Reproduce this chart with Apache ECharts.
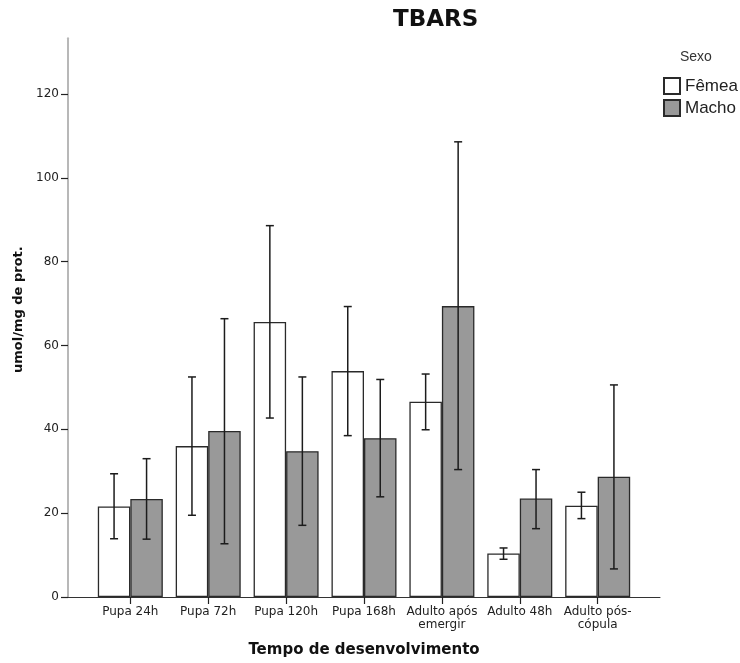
<!DOCTYPE html>
<html>
<head>
<meta charset="utf-8">
<script src="https://cdn.jsdelivr.net/npm/echarts@6/dist/echarts.min.js"></script>
<style>
  html, body { margin: 0; padding: 0; background: #fff; }
  #chart { width: 740px; height: 663px; }
</style>
</head>
<body>
<div id="chart"></div>
<script>
// TBARS by developmental stage and sex: means with error bars
var categories = ['Pupa 24h', 'Pupa 72h', 'Pupa 120h', 'Pupa 168h', 'Adulto após\nemergir', 'Adulto 48h', 'Adulto pós-\ncópula'];
var femaleMean = [21.6, 36.0, 65.6, 53.9, 46.6, 10.4, 21.8];
var femaleLow  = [13.9, 19.5, 42.7, 38.5, 39.9, 9.0, 18.7];
var femaleHigh = [29.4, 52.5, 88.6, 69.3, 53.2, 11.7, 25.0];
var maleMean   = [23.4, 39.6, 34.8, 37.9, 69.4, 23.5, 28.7];
var maleLow    = [13.8, 12.7, 17.1, 23.9, 30.4, 16.3, 6.7];
var maleHigh   = [33.0, 66.4, 52.5, 51.9, 108.6, 30.4, 50.6];
var yTicks = [0, 20, 40, 60, 80, 100, 120];

var BAR_W = 32.5;
var catIdx = categories.map(function (c, i) { return i; });

function barData(values) {
  return values.map(function (v, i) { return [i, v]; });
}
function errData(lows, highs) {
  return lows.map(function (lo, i) { return [i, lo, highs[i]]; });
}
function errorBars(name, lows, highs, side) {
  return {
    type: 'custom',
    name: name,
    z: 5,
    silent: true,
    encode: { x: 0, y: [1, 2] },
    data: errData(lows, highs),
    renderItem: function (params, api) {
      var x = api.value(0);
      var top = api.coord([x, api.value(2)]);
      var bot = api.coord([x, api.value(1)]);
      var cx = top[0] + side * BAR_W / 2;
      var cap = 4;
      var st = { stroke: '#1c1c1c', lineWidth: 1.5 };
      return {
        type: 'group',
        children: [
          { type: 'line', shape: { x1: cx, y1: top[1], x2: cx, y2: bot[1] }, style: st },
          { type: 'line', shape: { x1: cx - cap, y1: top[1], x2: cx + cap, y2: top[1] }, style: st },
          { type: 'line', shape: { x1: cx - cap, y1: bot[1], x2: cx + cap, y2: bot[1] }, style: st }
        ]
      };
    }
  };
}

var chart = echarts.init(document.getElementById('chart'), null, { renderer: 'canvas' });
chart.setOption({
  animation: false,
  backgroundColor: '#ffffff',
  title: [
    {
      text: 'TBARS',
      left: 393, top: 9, padding: 0,
      textStyle: { fontFamily: 'DejaVu Sans', fontWeight: 'bold', fontSize: 23, color: '#111' }
    },
    {
      text: 'Sexo',
      left: 680, top: 50, padding: 0,
      textStyle: { fontFamily: 'Liberation Sans', fontWeight: 'normal', fontSize: 14, color: '#333' }
    }
  ],
  legend: {
    data: ['Fêmea', 'Macho'],
    orient: 'vertical',
    left: 663, top: 77, padding: 0,
    itemWidth: 16, itemHeight: 16, itemGap: 4,
    icon: 'rect',
    textStyle: { fontFamily: 'Liberation Sans', fontSize: 17, color: '#222' }
  },
  grid: { left: 68, right: 80, top: 38.3, bottom: 64.7 },
  xAxis: {
    type: 'value',
    min: -0.8, max: 6.8,
    name: 'Tempo de desenvolvimento',
    nameLocation: 'middle',
    nameGap: 46,
    nameTextStyle: { fontFamily: 'DejaVu Sans', fontWeight: 'bold', fontSize: 15, color: '#111' },
    splitLine: { show: false },
    axisLine: { show: true, onZero: false, lineStyle: { color: '#333', width: 1 } },
    axisTick: { show: true, customValues: catIdx, length: 7, lineStyle: { color: '#222', width: 1.2 } },
    axisLabel: {
      customValues: catIdx,
      formatter: function (v) { return categories[Math.round(v)]; },
      fontFamily: 'DejaVu Sans', fontSize: 12, lineHeight: 13, color: '#222', margin: 8
    }
  },
  yAxis: {
    type: 'value',
    min: 0, max: 133.3,
    name: 'umol/mg de prot.',
    nameLocation: 'middle',
    nameGap: 38,
    nameTextStyle: { fontFamily: 'DejaVu Sans', fontWeight: 'bold', fontSize: 13, color: '#111', padding: [0, 0, 0, 16] },
    splitLine: { show: false },
    axisLine: { show: true, onZero: false, lineStyle: { color: '#b8b8b8', width: 2 } },
    axisTick: { show: true, customValues: yTicks, length: 7, lineStyle: { color: '#222', width: 1.2 } },
    axisLabel: {
      customValues: yTicks,
      fontFamily: 'DejaVu Sans', fontSize: 12, color: '#222', margin: 9
    }
  },
  series: [
    {
      type: 'bar',
      name: 'Fêmea',
      barWidth: BAR_W,
      barGap: '0%',
      data: barData(femaleMean),
      itemStyle: { color: '#ffffff', borderColor: '#2a2a2a', borderWidth: 1.3 }
    },
    {
      type: 'bar',
      name: 'Macho',
      barWidth: BAR_W,
      barGap: '0%',
      data: barData(maleMean),
      itemStyle: { color: '#999999', borderColor: '#2a2a2a', borderWidth: 1.3 }
    },
    errorBars('Fêmea IC', femaleLow, femaleHigh, -1),
    errorBars('Macho IC', maleLow, maleHigh, 1)
  ]
});
</script>
</body>
</html>
